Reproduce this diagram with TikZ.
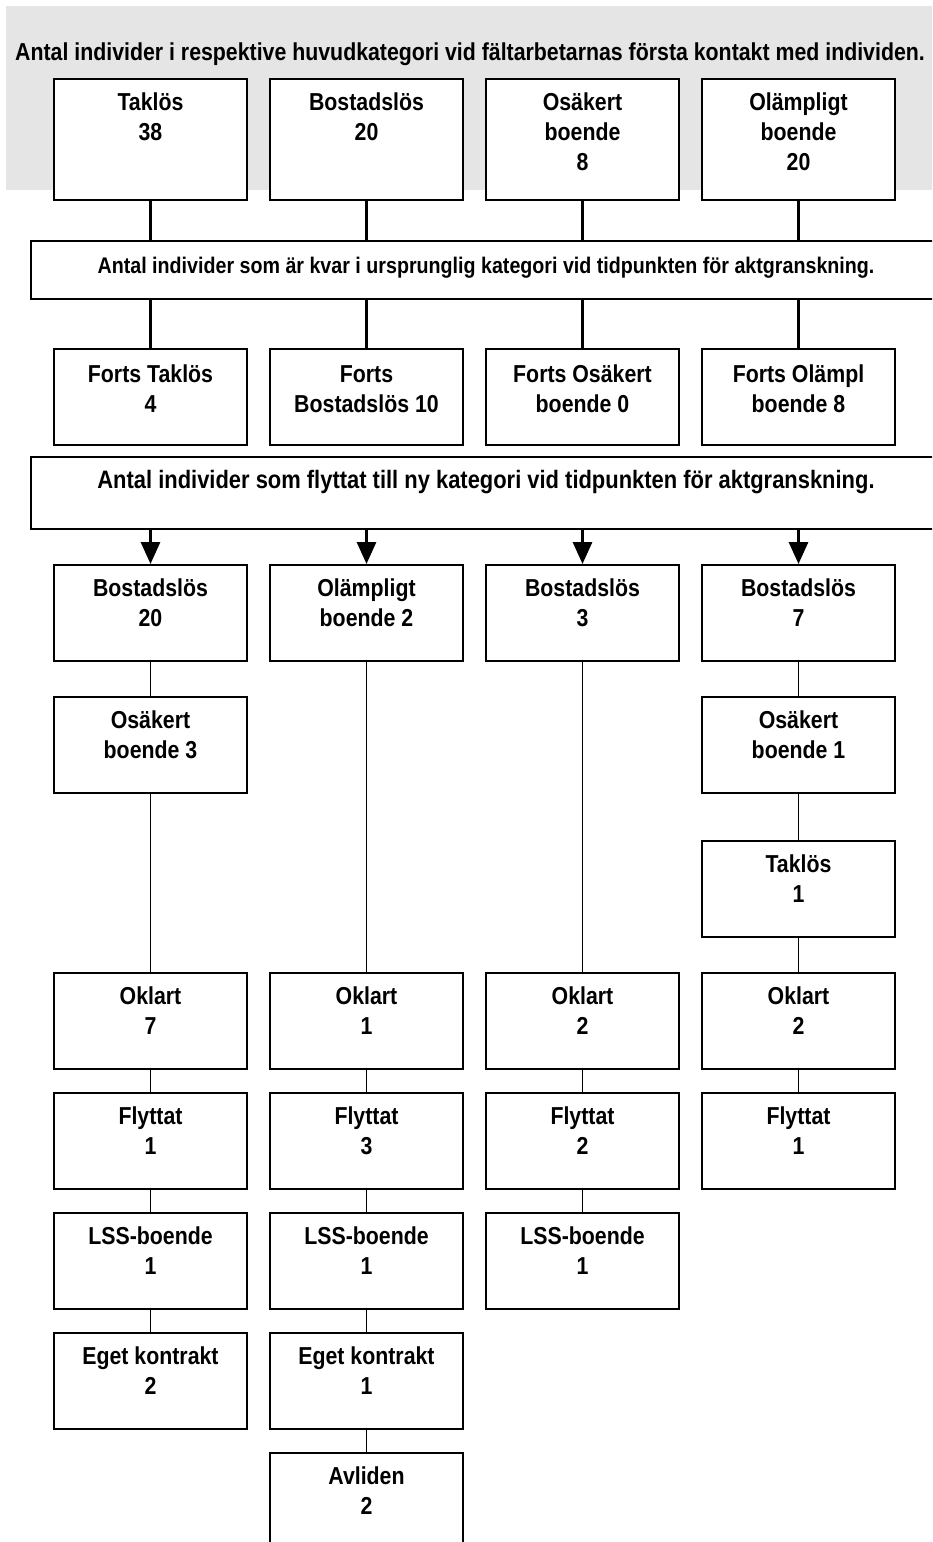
\documentclass[tikz,border=0pt]{standalone}
\usepackage{fontspec}
\setmainfont[FakeStretch=0.87]{Liberation Sans}
\usetikzlibrary{positioning,arrows.meta}

\definecolor{bggray}{rgb}{0.898039,0.898039,0.898039}

\tikzset{
  catbox/.style={draw, line width=2pt, fill=white, inner sep=0pt, anchor=north,
    minimum width=193pt, minimum height=96pt},
  topbox/.style={catbox, minimum height=121pt},
  barbox/.style={draw, line width=2pt, fill=white, inner sep=0pt, anchor=north west,
    minimum width=912pt},
  boxtext/.style={font=\fontsize{24.5}{30}\selectfont\bfseries, align=center, inner sep=0pt},
  titletext/.style={font=\fontsize{24.5}{30}\selectfont\bfseries, inner sep=0pt, anchor=base},
  thicklink/.style={line width=3pt},
  thinlink/.style={line width=1.2pt},
  downarrow/.style={line width=3pt, -{Triangle[width=19pt,length=22pt]}}
}

\begin{document}
\begin{tikzpicture}[x=1pt,y=-1pt]
\useasboundingbox (0,0) rectangle (932,1542);
\clip (0,0) rectangle (932,1542);

% grey header
\fill[bggray] (6,6) rectangle (940,190);
\node[titletext] (title) at (470,60) {Antal individer i respektive huvudkategori vid fältarbetarnas första kontakt med individen.};

% main categories
\node[topbox] (t1) at (150.5,78) {};
\node[boxtext, below=15pt of t1.north] (t1t) {Taklös\\38};
\node[topbox] (t2) at (366.5,78) {};
\node[boxtext, below=15pt of t2.north] (t2t) {Bostadslös\\20};
\node[topbox] (t3) at (582.5,78) {};
\node[boxtext, below=15pt of t3.north] (t3t) {Osäkert\\boende\\8};
\node[topbox] (t4) at (798.5,78) {};
\node[boxtext, below=15pt of t4.north] (t4t) {Olämpligt\\boende\\20};

% bar: still in first category
\node[barbox, minimum height=58pt] (bar2) at (30,240) {};
\node[titletext, font=\fontsize{22.6}{30}\selectfont\bfseries] (bar2t) at (486,273) {Antal individer som är kvar i ursprunglig kategori vid tidpunkten för aktgranskning.};

\node[catbox] (f1) at (150.5,348) {};
\node[boxtext, below=17pt of f1.north] (f1t) {Forts Taklös\\4};
\node[catbox] (f2) at (366.5,348) {};
\node[boxtext, below=17pt of f2.north] (f2t) {Forts\\Bostadslös 10};
\node[catbox] (f3) at (582.5,348) {};
\node[boxtext, below=17pt of f3.north] (f3t) {Forts Osäkert\\boende 0};
\node[catbox] (f4) at (798.5,348) {};
\node[boxtext, below=17pt of f4.north] (f4t) {Forts Olämpl\\boende 8};

% bar: moved to new category
\node[barbox, minimum height=72pt] (bar3) at (30,456) {};
\node[titletext, font=\fontsize{25.2}{30}\selectfont\bfseries] (bar3t) at (486,488) {Antal individer som flyttat till ny kategori vid tidpunkten för aktgranskning.};

% column 1
\node[catbox] (a1) at (150.5,564) {};
\node[boxtext, below=15pt of a1.north] (a1t) {Bostadslös\\20};
\node[catbox] (o1) at (150.5,696) {};
\node[boxtext, below=15pt of o1.north] (o1t) {Osäkert\\boende 3};
\node[catbox] (k1) at (150.5,972) {};
\node[boxtext, below=15pt of k1.north] (k1t) {Oklart\\7};
\node[catbox] (m1) at (150.5,1092) {};
\node[boxtext, below=15pt of m1.north] (m1t) {Flyttat\\1};
\node[catbox] (l1) at (150.5,1212) {};
\node[boxtext, below=15pt of l1.north] (l1t) {LSS-boende\\1};
\node[catbox] (e1) at (150.5,1332) {};
\node[boxtext, below=15pt of e1.north] (e1t) {Eget kontrakt\\2};

% column 2
\node[catbox] (a2) at (366.5,564) {};
\node[boxtext, below=15pt of a2.north] (a2t) {Olämpligt\\boende 2};
\node[catbox] (k2) at (366.5,972) {};
\node[boxtext, below=15pt of k2.north] (k2t) {Oklart\\1};
\node[catbox] (m2) at (366.5,1092) {};
\node[boxtext, below=15pt of m2.north] (m2t) {Flyttat\\3};
\node[catbox] (l2) at (366.5,1212) {};
\node[boxtext, below=15pt of l2.north] (l2t) {LSS-boende\\1};
\node[catbox] (e2) at (366.5,1332) {};
\node[boxtext, below=15pt of e2.north] (e2t) {Eget kontrakt\\1};
\node[catbox] (d2) at (366.5,1452) {};
\node[boxtext, below=15pt of d2.north] (d2t) {Avliden\\2};

% column 3
\node[catbox] (a3) at (582.5,564) {};
\node[boxtext, below=15pt of a3.north] (a3t) {Bostadslös\\3};
\node[catbox] (k3) at (582.5,972) {};
\node[boxtext, below=15pt of k3.north] (k3t) {Oklart\\2};
\node[catbox] (m3) at (582.5,1092) {};
\node[boxtext, below=15pt of m3.north] (m3t) {Flyttat\\2};
\node[catbox] (l3) at (582.5,1212) {};
\node[boxtext, below=15pt of l3.north] (l3t) {LSS-boende\\1};

% column 4
\node[catbox] (a4) at (798.5,564) {};
\node[boxtext, below=15pt of a4.north] (a4t) {Bostadslös\\7};
\node[catbox] (o4) at (798.5,696) {};
\node[boxtext, below=15pt of o4.north] (o4t) {Osäkert\\boende 1};
\node[catbox] (s4) at (798.5,840) {};
\node[boxtext, below=15pt of s4.north] (s4t) {Taklös\\1};
\node[catbox] (k4) at (798.5,972) {};
\node[boxtext, below=15pt of k4.north] (k4t) {Oklart\\2};
\node[catbox] (m4) at (798.5,1092) {};
\node[boxtext, below=15pt of m4.north] (m4t) {Flyttat\\1};

% thick connectors
\draw[thicklink] (t1.south) -- (t1.south |- bar2.north);
\draw[thicklink] (t2.south) -- (t2.south |- bar2.north);
\draw[thicklink] (t3.south) -- (t3.south |- bar2.north);
\draw[thicklink] (t4.south) -- (t4.south |- bar2.north);
\draw[thicklink] (f1.north |- bar2.south) -- (f1.north);
\draw[thicklink] (f2.north |- bar2.south) -- (f2.north);
\draw[thicklink] (f3.north |- bar2.south) -- (f3.north);
\draw[thicklink] (f4.north |- bar2.south) -- (f4.north);

% arrows
\draw[downarrow] (a1.north |- bar3.south) -- (a1.north);
\draw[downarrow] (a2.north |- bar3.south) -- (a2.north);
\draw[downarrow] (a3.north |- bar3.south) -- (a3.north);
\draw[downarrow] (a4.north |- bar3.south) -- (a4.north);

% thin connectors
\draw[thinlink] (a1) -- (o1);
\draw[thinlink] (o1) -- (k1);
\draw[thinlink] (k1) -- (m1);
\draw[thinlink] (m1) -- (l1);
\draw[thinlink] (l1) -- (e1);
\draw[thinlink] (a2) -- (k2);
\draw[thinlink] (k2) -- (m2);
\draw[thinlink] (m2) -- (l2);
\draw[thinlink] (l2) -- (e2);
\draw[thinlink] (e2) -- (d2);
\draw[thinlink] (a3) -- (k3);
\draw[thinlink] (k3) -- (m3);
\draw[thinlink] (m3) -- (l3);
\draw[thinlink] (a4) -- (o4);
\draw[thinlink] (o4) -- (s4);
\draw[thinlink] (s4) -- (k4);
\draw[thinlink] (k4) -- (m4);
\end{tikzpicture}
\end{document}
